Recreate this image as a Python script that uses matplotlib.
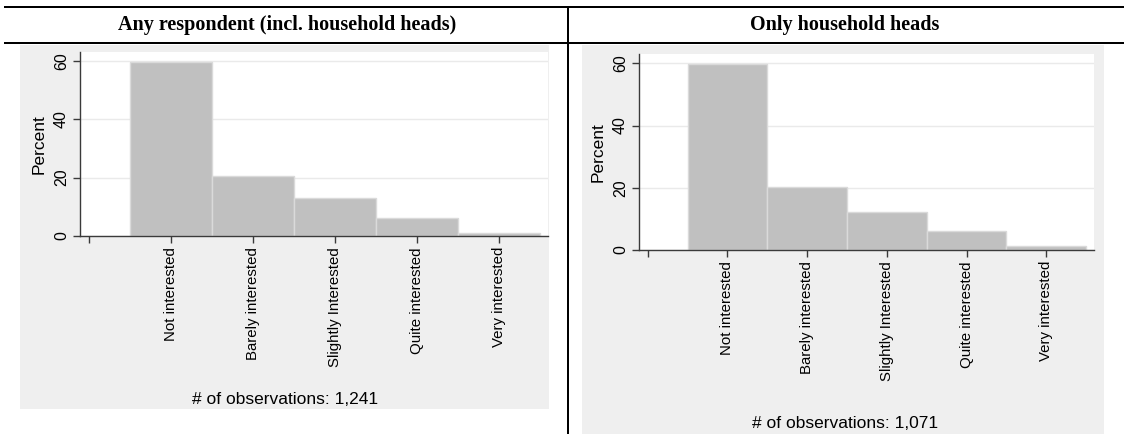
# ----------------------------
# Data
# ----------------------------
import matplotlib
matplotlib.use("Agg")
import matplotlib.pyplot as plt
from matplotlib.patches import Rectangle
from matplotlib.lines import Line2D

categories = ["Not interested", "Barely interested", "Slightly Interested",
              "Quite interested", "Very interested"]
codes = [1, 2, 3, 4, 5]
pct_any = [59.7, 20.4, 12.9, 6.0, 1.0]       # Any respondent (incl. household heads)
pct_heads = [59.8, 20.4, 12.3, 6.2, 1.3]     # Only household heads
n_any = 1241
n_heads = 1071
titles = ["Any respondent (incl. household heads)", "Only household heads"]

W, H = 1124, 434
fig = plt.figure(figsize=(W / 100, H / 100), dpi=100)
fig.patch.set_facecolor("white")


def fx(px):
    return px / W


def fy(py):
    return 1 - py / H


def add_rect(x0, y0, x1, y1, color):
    fig.add_artist(Rectangle((fx(x0), fy(y1)), fx(x1) - fx(x0), fy(y0) - fy(y1),
                             transform=fig.transFigure, facecolor=color,
                             edgecolor="none", zorder=0))


def add_line(x0, y0, x1, y1, lw=2):
    fig.add_artist(Line2D([fx(x0), fx(x1)], [fy(y0), fy(y1)],
                          transform=fig.transFigure, color="black", lw=lw * 0.72))


# ----------------------------
# Table frame and headers
# ----------------------------
add_line(5, 7, W, 7)
add_line(5, 43, W, 43)
add_line(567.5, 7, 567.5, H)

fig.text(fx(287), fy(25), titles[0], ha="center", va="center",
         family="Liberation Serif", fontweight="bold", fontsize=14.5)
fig.text(fx(845), fy(25), titles[1], ha="center", va="center",
         family="Liberation Serif", fontweight="bold", fontsize=14.5)

# grey graph regions
add_rect(20, 45, 549, 409, "#efefef")
add_rect(582, 45, 1104, H, "#efefef")

# ----------------------------
# Histograms
# ----------------------------
panels = [
    # values, n, plot box (left, top, right, bottom) in pixels, note y, note x
    (pct_any, n_any, (80, 52, 548, 236), 400, 285),
    (pct_heads, n_heads, (639, 54, 1094, 250), 423, 845),
]

for vals, n, (l, t, r, b), note_y, note_x in panels:
    ax = fig.add_axes([fx(l), fy(b), fx(r) - fx(l), fy(t) - fy(b)])
    ax.set_facecolor("white")
    ax.bar(codes, vals, width=1.0, color="#c0c0c0", edgecolor="#dadada",
           linewidth=1, zorder=2)
    ax.set_xlim(-0.11, 5.6)
    ax.set_ylim(0, 63)
    ax.set_yticks([0, 20, 40, 60])
    ax.set_yticklabels(["0", "20", "40", "60"], rotation=90, va="center",
                       family="Liberation Sans", fontsize=11.5)
    ax.set_xticks([0] + codes)
    ax.set_xticklabels([""] + categories, rotation=90,
                       family="Liberation Sans", fontsize=10.8)
    ax.grid(axis="y", color="#eaeaea", lw=1, zorder=0)
    for s in ["top", "right"]:
        ax.spines[s].set_visible(False)
    for s in ["left", "bottom"]:
        ax.spines[s].set_color("#3a3a3a")
        ax.spines[s].set_linewidth(1)
    ax.tick_params(length=5, width=1, color="#3a3a3a", pad=3)
    ax.set_ylabel("Percent", family="Liberation Sans", fontsize=12.5, labelpad=5)
    fig.text(fx(note_x), fy(note_y), f"# of observations: {n:,}",
             ha="center", va="center", family="Liberation Sans", fontsize=12.5)

plt.savefig("out.png", dpi=100)
